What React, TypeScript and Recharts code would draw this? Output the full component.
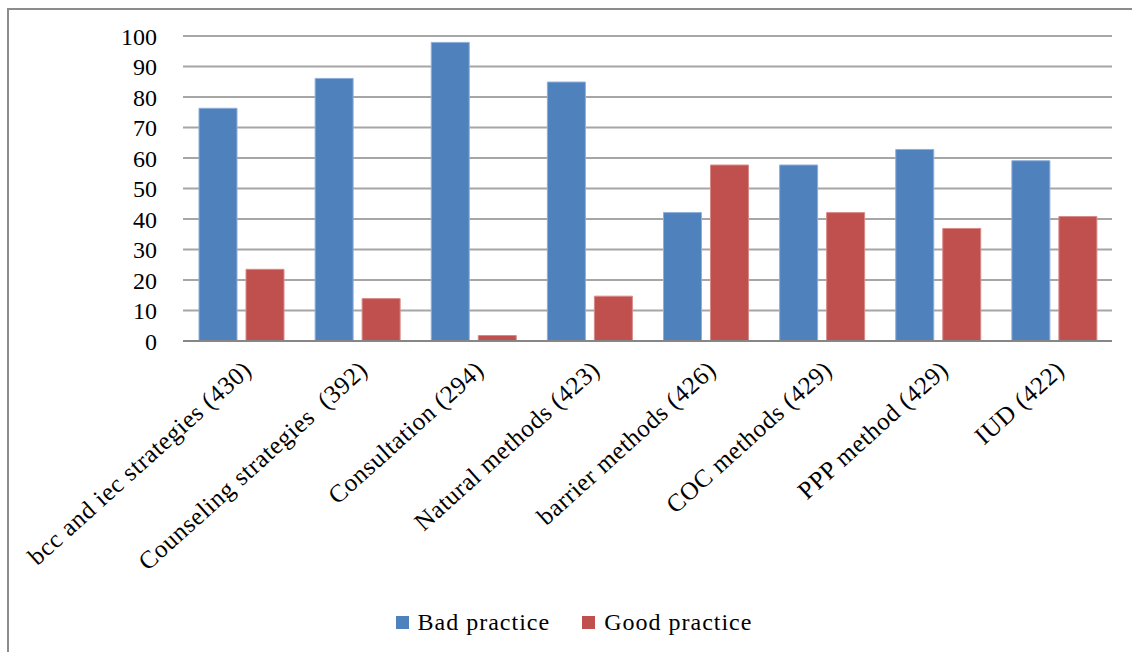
import React from 'react';
import { BarChart, Bar, XAxis, YAxis, CartesianGrid, Legend } from 'recharts';

const categories = [
    'bcc and iec strategies (430)',
    'Counseling strategies  (392)',
    'Consultation (294)',
    'Natural methods (423)',
    'barrier methods (426)',
    'COC methods (429)',
    'PPP method (429)',
    'IUD (422)',
];
const badPractice = [76.3, 86.1, 97.9, 84.9, 42.1, 57.7, 62.8, 59.1];
const goodPractice = [23.5, 13.9, 1.8, 14.7, 57.7, 42.1, 36.9, 40.8];
const yTicks = [0, 10, 20, 30, 40, 50, 60, 70, 80, 90, 100];

const FONT = '"Liberation Serif", "Times New Roman", serif';
const BLUE = '#4F81BD';
const RED = '#C0504D';

const data = categories.map((name, i) => ({
    name,
    bad: badPractice[i],
    good: goodPractice[i],
}));

// rotated category label, anchored at its end just under the group
const CategoryTick = (props: any) => {
    const { x, y, payload } = props;
    return (
        <g transform={`translate(${x + 12},${y + 23})`}>
            <text
                x={0}
                y={0}
                textAnchor="end"
                transform="rotate(-42)"
                fontFamily={FONT}
                fontSize={25}
                letterSpacing={0.6}
                fill="#000"
                style={{ whiteSpace: 'pre' }}
            >
                {payload.value}
            </text>
        </g>
    );
};

const LegendContent = () => (
    <div style={{ display: 'flex', justifyContent: 'center', alignItems: 'center', fontFamily: FONT, fontSize: 24, color: '#000' }}>
        <span style={{ display: 'inline-block', width: 13, height: 13, background: BLUE, marginRight: 9 }} />
        <span style={{ letterSpacing: 1 }}>Bad practice</span>
        <span style={{ display: 'inline-block', width: 13, height: 13, background: RED, marginLeft: 32, marginRight: 9 }} />
        <span style={{ letterSpacing: 1 }}>Good practice</span>
    </div>
);

const App: React.FC = () => {
    return (
        <div style={{ position: 'absolute', left: 0, top: 0, width: 1132, height: 652, background: '#fff', overflow: 'hidden' }}>
            <div style={{ position: 'absolute', left: 7, top: 8, width: 1140, height: 660, borderTop: '2px solid #8c8c8c', borderLeft: '2px solid #8c8c8c' }} />
            <BarChart
                width={1132}
                height={652}
                data={data}
                margin={{ top: 36, right: 20, left: 0, bottom: 0 }}
                barSize={38}
                barGap={9}
            >
                <CartesianGrid vertical={false} stroke="#a6a6a6" strokeWidth={2} />
                <XAxis
                    dataKey="name"
                    interval={0}
                    height={284}
                    tick={<CategoryTick />}
                    tickLine={false}
                    axisLine={{ stroke: '#868686', strokeWidth: 2 }}
                />
                <YAxis
                    width={183}
                    domain={[0, 100]}
                    ticks={yTicks}
                    interval={0}
                    axisLine={false}
                    tickLine={false}
                    tickMargin={20}
                    tick={{ fill: '#000', fontSize: 24, fontFamily: FONT }}
                />
                <Legend
                    verticalAlign="bottom"
                    content={<LegendContent />}
                    wrapperStyle={{ left: 8, width: 1132, bottom: 16 }}
                />
                <Bar dataKey="bad" name="Bad practice" fill={BLUE} stroke="#8eaedb" strokeWidth={1} isAnimationActive={false} />
                <Bar dataKey="good" name="Good practice" fill={RED} stroke="#d88a88" strokeWidth={1} isAnimationActive={false} />
            </BarChart>
        </div>
    );
};

export default App;
